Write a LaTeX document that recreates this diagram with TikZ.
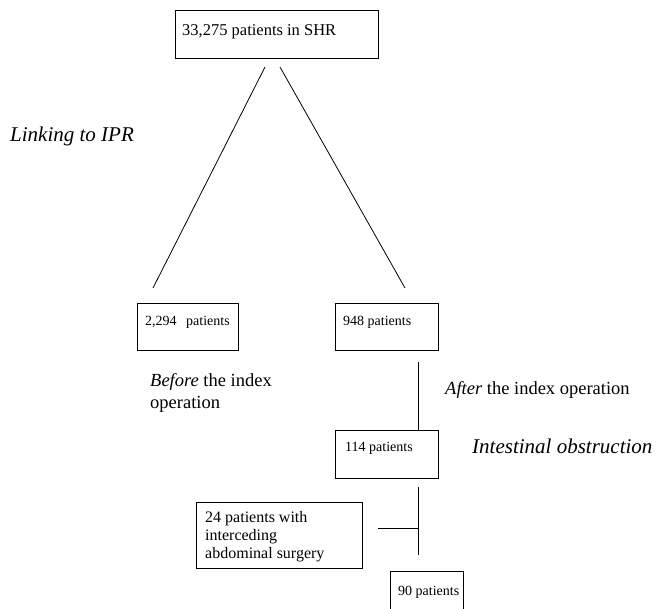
\documentclass[tikz,border=0pt]{standalone}
\usepackage{fontspec}
\setmainfont{Liberation Serif}
\begin{document}
\begin{tikzpicture}[x=1pt,y=-1pt]
\tikzset{
  bx/.style={draw=black, line width=0.8pt, inner sep=0pt, anchor=north west},
  bt/.style={font=\fontsize{14}{18}\selectfont, inner sep=0pt, anchor=base west, align=left},
  btl/.style={font=\fontsize{16.5}{18}\selectfont, inner sep=0pt, anchor=base west, align=left},
  lab/.style={font=\fontsize{18.5}{22}\selectfont, inner sep=0pt, anchor=base west, align=left},
  labl/.style={font=\fontsize{21}{24}\selectfont, inner sep=0pt, anchor=base west, align=left},
  ln/.style={line width=0.8pt}
}
\useasboundingbox (0,0) rectangle (661,608);
\clip (0,0) rectangle (661,608);

% boxes
\node[bx, minimum width=203pt, minimum height=48pt,
  label={[btl, xshift=7pt, yshift=-25pt]north west:33,275 patients in SHR}] (shr) at (175,10) {};
\node[bx, minimum width=101pt, minimum height=47pt,
  label={[bt, xshift=8pt, yshift=-22pt]north west:2,294\hspace{6pt} patients}] (before) at (137,303) {};
\node[bx, minimum width=103pt, minimum height=47pt,
  label={[bt, xshift=8pt, yshift=-22pt]north west:948 patients}] (after) at (335,303) {};
\node[bx, minimum width=103pt, minimum height=48pt,
  label={[bt, xshift=10pt, yshift=-21pt]north west:114 patients}] (obst) at (335,430) {};
\node[bx, minimum width=166pt, minimum height=66pt,
  label={[btl, font=\fontsize{16}{18}\selectfont, xshift=9pt, yshift=-56pt]north west:24 patients with\\interceding\\abdominal surgery}] (surg) at (196,502) {};
\node[bx, minimum width=73pt, minimum height=60pt,
  label={[bt, xshift=8pt, yshift=-24pt]north west:90 patients}] (final) at (390,571) {};

% texts
\node[labl] (link) at (10,141) {\itshape Linking to IPR};
\node[lab] (beforetxt) at (150,408) {\textit{Before} the index\\operation};
\node[lab] (aftertxt) at (445,394) {\textit{After} the index operation};
\node[labl] (obsttxt) at (472,453) {\itshape Intestinal obstruction};

% connectors
\coordinate (l1s) at (265,67);
\coordinate (l1e) at (153,288);
\coordinate (l2s) at (280,67);
\coordinate (l2e) at (405,288);
\coordinate (v1s) at (418,362);
\coordinate (v2s) at (418,487);
\coordinate (v2e) at (418,555);
\coordinate (hj) at (418,528);
\coordinate (hs) at (378,528);
\draw[ln] (l1s) -- (l1e);
\draw[ln] (l2s) -- (l2e);
\draw[ln] (v1s) -- (obst.north -| v1s);
\draw[ln] (v2s) -- (v2e);
\draw[ln] (hs) -- (hj);
\end{tikzpicture}
\end{document}
